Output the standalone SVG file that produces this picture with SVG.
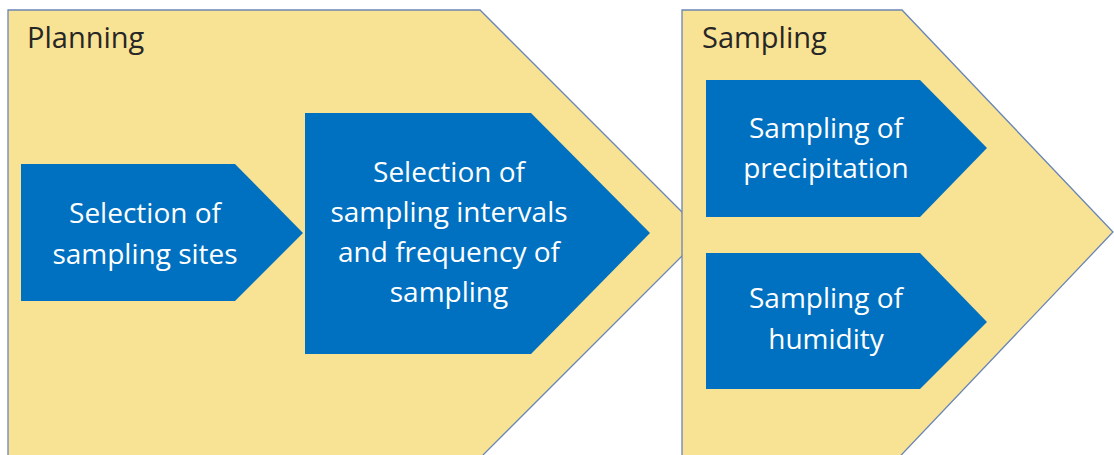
<svg xmlns="http://www.w3.org/2000/svg" width="1114" height="455" viewBox="0 0 1114 455">
  <style>
    .outer { fill: #F8E293; stroke: #6A86B5; stroke-width: 1.3; }
    .inner { fill: #0070C0; stroke: none; }
    .label { font-family: "Open Sans", "Liberation Sans", sans-serif; font-size: 29px; fill: #262626; }
    .txt { font-family: "Open Sans", "Liberation Sans", sans-serif; font-size: 28px; fill: #FFFFFF; text-anchor: middle; }
  </style>
  <rect x="0" y="0" width="1114" height="455" fill="#FFFFFF"/>
  <g id="planning">
    <polygon class="outer" points="8,10 480,10 704,234 468,470 8,470"/>
    <text class="label" x="27" y="48">Planning</text>
  </g>
  <g id="sampling">
    <polygon class="outer" points="682,10 902,10 1113,232 887,470 682,470"/>
    <text class="label" x="702" y="48">Sampling</text>
  </g>
  <g id="selection-sites">
    <polygon class="inner" points="21,164 235,164 303,233 235,301 21,301"/>
    <text class="txt" x="145" y="223">Selection of</text>
    <text class="txt" x="145" y="264">sampling sites</text>
  </g>
  <g id="selection-intervals">
    <polygon class="inner" points="305,113 531,113 650,233 531,354 305,354"/>
    <text class="txt" x="449" y="182">Selection of</text>
    <text class="txt" x="449" y="222">sampling intervals</text>
    <text class="txt" x="449" y="262">and frequency of</text>
    <text class="txt" x="449" y="302">sampling</text>
  </g>
  <g id="sampling-precipitation">
    <polygon class="inner" points="706,80 920,80 987,148 920,217 706,217"/>
    <text class="txt" x="826" y="138">Sampling of</text>
    <text class="txt" x="826" y="178">precipitation</text>
  </g>
  <g id="sampling-humidity">
    <polygon class="inner" points="706,253 920,253 987,322 920,389 706,389"/>
    <text class="txt" x="826" y="308">Sampling of</text>
    <text class="txt" x="826" y="349">humidity</text>
  </g>
  <g id="connectors"/>
</svg>
